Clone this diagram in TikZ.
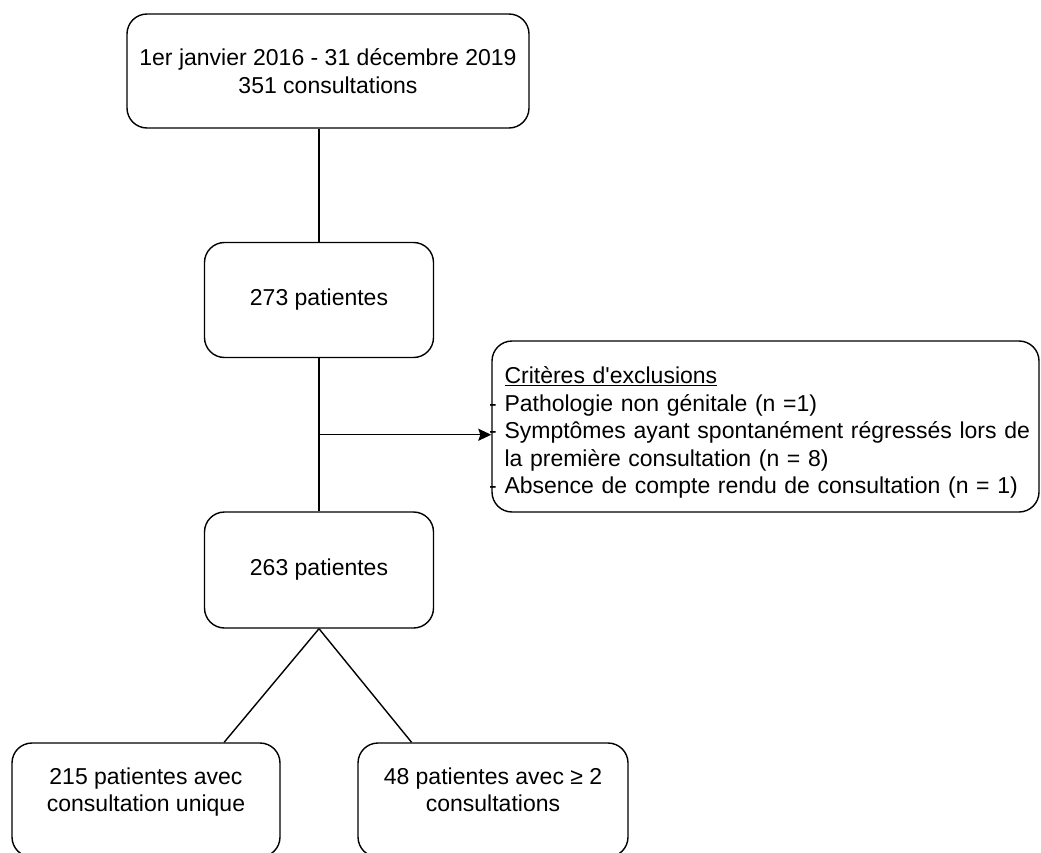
\documentclass[tikz,border=0pt]{standalone}
\usepackage{fontspec}
\setmainfont{Liberation Sans}
\usepackage{xcolor}
\usepackage{tikz}
\usetikzlibrary{arrows.meta,positioning,calc}
\definecolor{fcink}{HTML}{000000}
\newcommand{\exdash}{\leavevmode\llap{- }}
\newcommand{\lowstrut}{\rule[-21pt]{0pt}{0pt}}
\tikzset{
  box/.style   = {rectangle, rounded corners=20pt, draw=fcink, line width=1.4pt,
                  align=center, inner sep=4pt, fill=white,
                  font=\fontsize{23}{27.5}\selectfont},
  excl/.style  = {box, align=left, text width=522pt},
  link/.style  = {line width=1.4pt, draw=fcink},
  flow/.style  = {-{Stealth[length=13pt,width=12pt,inset=2pt]}, line width=1.4pt, draw=fcink},
}
\begin{document}
\begin{tikzpicture}[x=1pt,y=-1pt]
\useasboundingbox (0,0) rectangle (1041,853);

% --- main column
\node[box, minimum width=402pt, minimum height=114pt] (period) at (328,71)
  {1er janvier 2016 - 31 décembre 2019\\351 consultations};
\node[box, minimum width=229pt, minimum height=115pt] (pat273) at (319,300)
  {273 patientes};
\node[box, minimum width=229pt, minimum height=116pt] (pat263) at (319,570)
  {263 patientes};

% --- exclusions
\node[excl, minimum width=547pt, minimum height=171pt] (crit) at (765.5,426.5)
  {\rule{0pt}{29pt}\underline{Critères d\textquotesingle exclusions}\\
   \exdash Pathologie non génitale (n =1)\\
   \exdash\mbox{Symptômes ayant spontanément régressés lors de}\\
   la première consultation (n = 8)\\
   \exdash Absence de compte rendu de consultation (n = 1)};

% --- split
\node[box, minimum width=268pt, minimum height=114pt] (single) at (146,800)
  {215 patientes avec\\consultation unique\lowstrut};
\node[box, minimum width=270pt, minimum height=114pt] (multi) at (493,800)
  {48 patientes avec ≥ 2\\consultations\lowstrut};

% --- arrows
\coordinate (branch) at ($(pat273.south)!0.5!(pat263.north)$);
\draw[link] (pat273.north |- period.south) -- (pat273.north);
\draw[link] (pat273.south) -- (pat263.north);
\draw[flow] (branch) -- (crit.west |- branch);
\draw[link] (pat263.south) -- ($(single.north west)!0.79!(single.north east)$);
\draw[link] (pat263.south) -- ($(multi.north west)!0.2!(multi.north east)$);

\end{tikzpicture}
\end{document}
